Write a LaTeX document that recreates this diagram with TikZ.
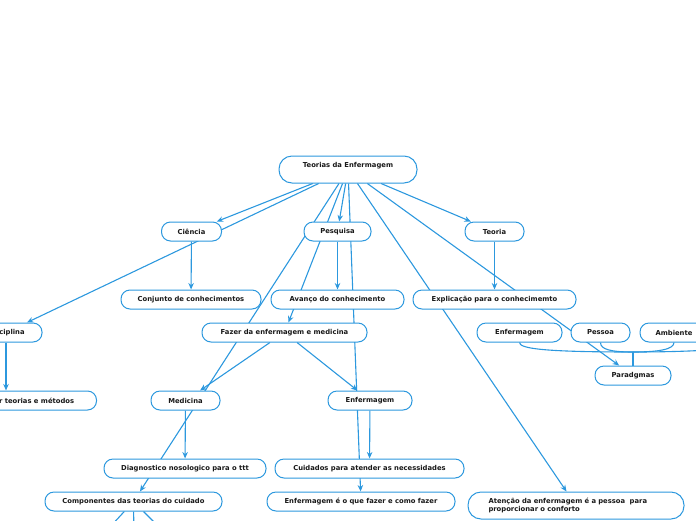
\documentclass[tikz,border=0pt]{standalone}
\usepackage{fontspec}
\setmainfont{DejaVu Sans}
\usepackage{xcolor}
\usepackage{tikz}
\usetikzlibrary{arrows.meta}
\definecolor{mapblue}{RGB}{44,152,222}
\definecolor{maptext}{RGB}{25,25,25}
\pgfdeclarelayer{links}
\pgfsetlayers{links,main}

\begin{document}
\begin{tikzpicture}[x=1pt,y=-1pt,
  topic/.style={draw=mapblue,line width=1pt,fill=white,rounded corners=9pt,
    minimum height=19pt,minimum width=#1,inner sep=2pt,text=maptext,
    font=\fontsize{6.8}{8}\selectfont\bfseries},
  link/.style={draw=mapblue,line width=1.1pt,-{Stealth[length=6.5pt,width=5.5pt]}},
  bond/.style={draw=mapblue,line width=1.1pt}]
  \useasboundingbox (0,0) rectangle (696,520);
  \clip (0,0) rectangle (696,520);

  % central topic
  \node[topic=138pt,minimum height=27pt,rounded corners=13pt,text depth=9pt]
    (root) at (348,169.5) {Teorias da Enfermagem};

  \foreach \name/\x/\y/\w/\txt in {cien/191.5/231.5/60/Ciência,
                                   pesq/337.5/231.5/67/Pesquisa,
                                   teor/494.5/231.5/59/Teoria,
                                   conj/191/299.5/140/Conjunto de conhecimentos,
                                   avan/337.5/299.5/133/Avanço do conhecimento,
                                   expl/494.5/299.5/163/Explicação para o conhecimemto,
                                   disc/6/332.5/72/Disciplina,
                                   fazer/284.5/332.5/165/Fazer da enfermagem e medicina,
                                   enfr/519.5/332.5/85/Enfermagem,
                                   pess/600.5/332.5/59/Pessoa,
                                   amb/674/332.5/68/Ambiente,
                                   parad/633/375.5/76/Paradgmas,
                                   desenv/14.5/400.5/164/Desenvolver teorias e métodos,
                                   medi/185.5/400.5/69/Medicina,
                                   enfm/370/400.5/84/Enfermagem,
                                   diag/185/468.5/162/Diagnostico nosologico para o ttt,
                                   cuid/369.5/468.5/189/Cuidados para atender as necessidades,
                                   comp/133.5/501.5/177/Componentes das teorias do cuidado,
                                   enfque/361/501.5/188/Enfermagem é o que fazer e como fazer}
    \node[topic=\w pt] (\name) at (\x,\y) {\txt};

  \node[topic=216pt,minimum height=27pt,rounded corners=13pt,text width=175pt,
    align=left,inner xsep=20.5pt] (aten) at (576,505.5)
    {Atenção da enfermagem é a pessoa\ \ para\\proporcionar o conforto};

  % off-page ends
  \coordinate (kidA) at (98,540);
  \coordinate (kidB) at (134,540);
  \coordinate (kidC) at (172,540);
  \coordinate (rest) at (745,343);
  \coordinate (knot) at (633,352);

  \begin{pgfonlayer}{links}
    \foreach \a/\b in {root/cien,root/disc,root/pesq,root/teor,root/comp,
                       root/fazer,root/enfque,root/aten,root/parad,
                       cien/conj,pesq/avan,teor/expl,fazer/medi,fazer/enfm,
                       medi/diag,enfm/cuid,comp/kidA,comp/kidB,comp/kidC}
      \draw[link] (\a) -- (\b);
    \draw[link] (disc) -- (disc |- desenv.north);

    % paradigm bracket
    \draw[bond] (enfr.south) .. controls +(0,6) and +(-90,0) .. (knot);
    \draw[bond] (pess.south) .. controls +(0,7) and +(-22,0) .. (knot);
    \draw[bond] (amb.south) .. controls +(0,7) and +(25,0) .. (knot);
    \draw[bond] (rest) .. controls +(0,6) and +(60,0) .. (knot);
    \draw[bond,line width=2.2pt] (knot) -- (parad.north);
  \end{pgfonlayer}
\end{tikzpicture}
\end{document}
